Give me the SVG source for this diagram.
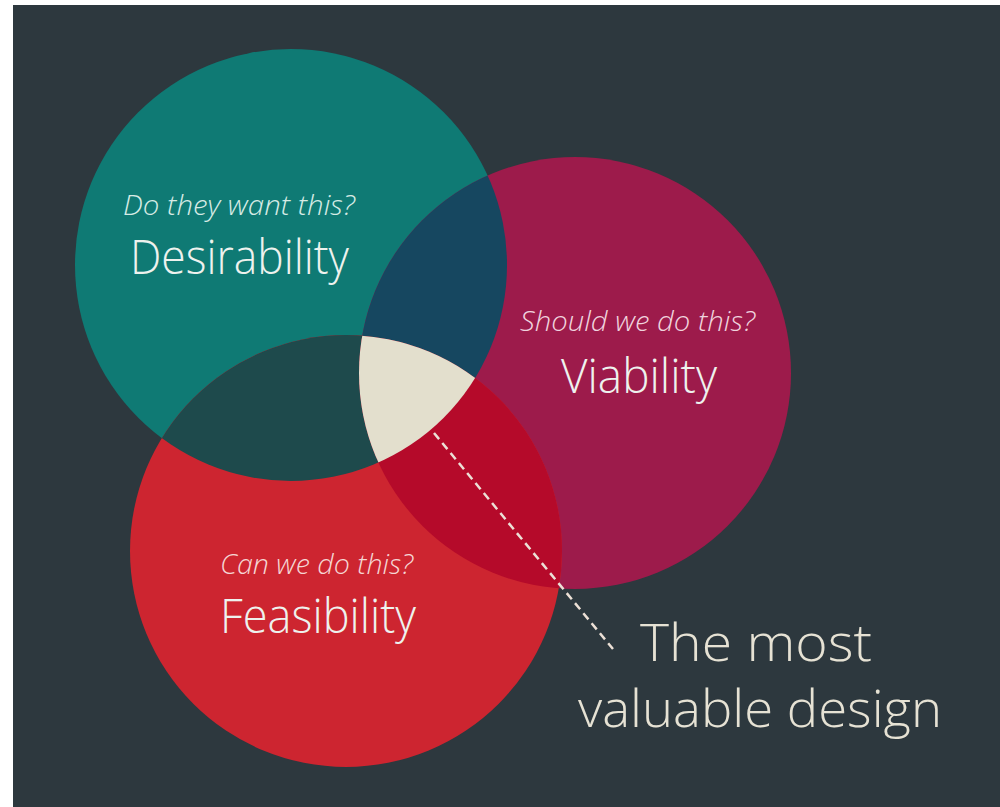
<svg xmlns="http://www.w3.org/2000/svg" width="1000" height="807" viewBox="0 0 1000 807">
  <style>
    .q { font-family: "Open Sans", "Liberation Sans", sans-serif; font-style: italic; font-weight: 300; font-size: 28px; text-anchor: start; }
    .lbl { font-family: "Open Sans", "Liberation Sans", sans-serif; font-weight: 300; font-size: 48px; fill: #eef2ee; }
    .big { font-family: "Open Sans", "Liberation Sans", sans-serif; font-weight: 300; font-size: 52px; fill: #e6e2d4; }
  </style>
  <defs>
    <clipPath id="clipTeal"><circle cx="291" cy="265" r="216"/></clipPath>
    <clipPath id="clipMag"><circle cx="575" cy="373" r="216"/></clipPath>
    <clipPath id="clipRed"><circle cx="346" cy="551" r="216"/></clipPath>
  </defs>
  <rect x="0" y="0" width="1000" height="807" fill="#ffffff"/>
  <rect x="13" y="5" width="987" height="802" fill="#2d383e"/>

  <g id="desirability-circle">
    <circle cx="291" cy="265" r="216" fill="#0f7a74"/>
  </g>
  <g id="viability-circle">
    <circle cx="575" cy="373" r="216" fill="#9d1b4b"/>
  </g>
  <g id="feasibility-circle">
    <circle cx="346" cy="551" r="216" fill="#cd2530"/>
  </g>
  <g id="overlaps">
    <g clip-path="url(#clipTeal)"><circle cx="575" cy="373" r="216" fill="#164760"/></g>
    <g clip-path="url(#clipTeal)"><circle cx="346" cy="551" r="216" fill="#1e4a4c"/></g>
    <g clip-path="url(#clipMag)"><circle cx="346" cy="551" r="216" fill="#b50a2a"/></g>
    <g id="most-valuable-area" clip-path="url(#clipTeal)"><g clip-path="url(#clipMag)"><circle cx="346" cy="551" r="216" fill="#e3dfcd"/></g></g>
  </g>

  <g id="desirability-label">
    <text class="q" x="123" y="215" fill="#d6ebe5" textLength="232" lengthAdjust="spacingAndGlyphs">Do they want this?</text>
    <text class="lbl" x="130" y="274" textLength="219" lengthAdjust="spacingAndGlyphs">Desirability</text>
  </g>
  <g id="viability-label">
    <text class="q" x="520" y="331" fill="#f0d3de" textLength="235" lengthAdjust="spacingAndGlyphs">Should we do this?</text>
    <text class="lbl" x="561" y="393" textLength="156" lengthAdjust="spacingAndGlyphs">Viability</text>
  </g>
  <g id="feasibility-label">
    <text class="q" x="220" y="574" fill="#f5d6d4" textLength="193" lengthAdjust="spacingAndGlyphs">Can we do this?</text>
    <text class="lbl" x="220" y="633" textLength="196" lengthAdjust="spacingAndGlyphs">Feasibility</text>
  </g>

  <g id="connectors">
    <line x1="434" y1="433" x2="613" y2="649" stroke="#ece0d6" stroke-width="2.5" stroke-dasharray="8 5"/>
  </g>

  <g id="annotation">
    <text class="big" x="640" y="661" textLength="232" lengthAdjust="spacingAndGlyphs">The most</text>
    <text class="big" x="578" y="727" textLength="364" lengthAdjust="spacingAndGlyphs">valuable design</text>
  </g>
</svg>
